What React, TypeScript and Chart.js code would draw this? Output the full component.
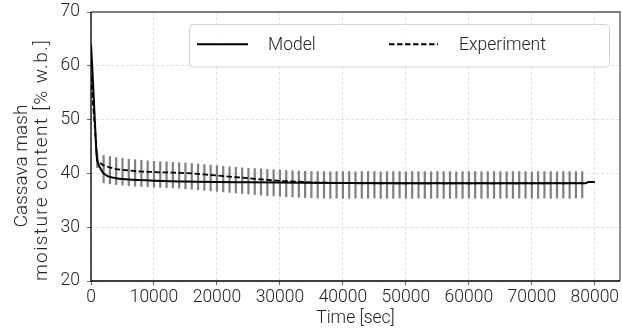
import React, { useEffect, useRef } from "react";
import { Chart, registerables } from "chart.js";

Chart.register(...registerables);

const FONT = "Roboto, 'DejaVu Sans', sans-serif";
const FONT_WEIGHT = "300";
const TEXT_COLOR = "#222";

// Tick values
const xTicks = [0, 10000, 20000, 30000, 40000, 50000, 60000, 70000, 80000];
const yTicks = [20, 30, 40, 50, 60, 70];

// Model curve
const modelTimes = [0, 250, 500, 750, 900, 1100, 1500, 2000, 2500, 3000, 4000, 5000, 6000, 8000, 10000, 12500, 15000, 20000, 25000, 30000, 40000, 50000, 60000, 70000, 78500, 79000, 80000];
const modelValues = [64, 58.5, 52.5, 46.5, 43.2, 42.0, 40.9, 40.0, 39.6, 39.35, 39.1, 38.95, 38.85, 38.75, 38.65, 38.55, 38.5, 38.4, 38.35, 38.3, 38.2, 38.15, 38.15, 38.15, 38.15, 38.4, 38.4];

// Experiment (mean curve) sampled every 1000 s
const expTimes = [
  0, 1000, 2000, 3000, 4000, 5000, 6000, 7000, 8000, 9000,
  10000, 11000, 12000, 13000, 14000, 15000, 16000, 17000, 18000, 19000,
  20000, 21000, 22000, 23000, 24000, 25000, 26000, 27000, 28000, 29000,
  30000, 31000, 32000, 33000, 34000, 35000, 36000, 37000, 38000, 39000,
  40000, 41000, 42000, 43000, 44000, 45000, 46000, 47000, 48000, 49000,
  50000, 51000, 52000, 53000, 54000, 55000, 56000, 57000, 58000, 59000,
  60000, 61000, 62000, 63000, 64000, 65000, 66000, 67000, 68000, 69000,
  70000, 71000, 72000, 73000, 74000, 75000, 76000, 77000, 78000,
];
const expValues = [
  58, 42.3, 41.5, 41.1, 40.8, 40.65, 40.55, 40.45, 40.35, 40.3,
  40.25, 40.2, 40.2, 40.15, 40.1, 40.05, 40.0, 39.9, 39.8, 39.7,
  39.6, 39.5, 39.4, 39.3, 39.2, 39.1, 39.0, 38.9, 38.8, 38.7,
  38.6, 38.55, 38.5, 38.45, 38.4, 38.35, 38.3, 38.3, 38.25, 38.25,
  38.2, 38.2, 38.2, 38.15, 38.2, 38.15, 38.15, 38.2, 38.15, 38.15,
  38.15, 38.2, 38.15, 38.15, 38.15, 38.2, 38.15, 38.15, 38.15, 38.2,
  38.15, 38.15, 38.2, 38.15, 38.15, 38.15, 38.2, 38.15, 38.15, 38.2,
  38.15, 38.2, 38.15, 38.2, 38.2, 38.15, 38.2, 38.2, 38.2,
];
// Error bar extents (upper / lower) at each experiment time
const barTop = [
  null, 43.7, 43.4, 43.2, 43.0, 42.85, 42.7, 42.6, 42.5, 42.4,
  42.3, 42.25, 42.2, 42.1, 42.05, 42.0, 41.9, 41.8, 41.7, 41.6,
  41.5, 41.4, 41.3, 41.2, 41.1, 41.0, 40.95, 40.9, 40.8, 40.75,
  40.7, 40.6, 40.55, 40.5, 40.45, 40.4, 40.4, 40.4, 40.35, 40.4,
  40.4, 40.4, 40.35, 40.4, 40.4, 40.4, 40.35, 40.4, 40.4, 40.4,
  40.35, 40.4, 40.4, 40.4, 40.35, 40.4, 40.4, 40.4, 40.35, 40.4,
  40.4, 40.4, 40.35, 40.4, 40.4, 40.4, 40.35, 40.4, 40.4, 40.4,
  40.35, 40.4, 40.4, 40.4, 40.35, 40.4, 40.4, 40.4, 40.4,
];
const barBottom = [
  null, 41.0, 38.2, 38.0, 37.85, 37.75, 37.65, 37.55, 37.5, 37.45,
  37.4, 37.35, 37.3, 37.25, 37.2, 37.1, 37.0, 36.9, 36.8, 36.7,
  36.6, 36.5, 36.4, 36.3, 36.2, 36.1, 36.0, 35.9, 35.8, 35.75,
  35.7, 35.6, 35.55, 35.5, 35.45, 35.4, 35.35, 35.35, 35.3, 35.35,
  35.3, 35.3, 35.35, 35.3, 35.3, 35.35, 35.3, 35.3, 35.3, 35.35,
  35.3, 35.3, 35.35, 35.3, 35.3, 35.35, 35.3, 35.3, 35.35, 35.3,
  35.35, 35.3, 35.3, 35.35, 35.3, 35.3, 35.35, 35.3, 35.35, 35.3,
  35.35, 35.3, 35.35, 35.3, 35.35, 35.35, 35.3, 35.35, 35.4,
];

const seriesLabels = ["Model", "Experiment"];
const xTitle = "Time [sec]";
const yTitleLines = ["Cassava mash", "moisture content [% w.b.]"];

const errorBarPlugin = {
  id: "errorBars",
  beforeDatasetsDraw(chart: any) {
    const { ctx, scales, chartArea } = chart;
    const xs = scales.x, ys = scales.y;
    ctx.save();
    ctx.beginPath();
    ctx.rect(chartArea.left, chartArea.top, chartArea.right - chartArea.left, chartArea.bottom - chartArea.top);
    ctx.clip();
    ctx.strokeStyle = "#808080";
    ctx.lineWidth = 2.2;
    for (let i = 0; i < expTimes.length; i++) {
      const t = barTop[i], b = barBottom[i];
      if (t == null || b == null) continue;
      const x = xs.getPixelForValue(expTimes[i]);
      ctx.beginPath();
      ctx.moveTo(x, ys.getPixelForValue(t));
      ctx.lineTo(x, ys.getPixelForValue(b));
      ctx.stroke();
    }
    ctx.restore();
  },
};

const framePlugin = {
  id: "frame",
  afterDatasetsDraw(chart: any) {
    const { ctx, chartArea: a } = chart;
    ctx.save();
    ctx.lineWidth = 1.3;
    ctx.strokeStyle = "#555";
    ctx.beginPath();
    ctx.moveTo(a.left, a.top);
    ctx.lineTo(a.right, a.top);
    ctx.lineTo(a.right, a.bottom);
    ctx.stroke();
    ctx.strokeStyle = "#000";
    ctx.beginPath();
    ctx.moveTo(a.left, a.top);
    ctx.lineTo(a.left, a.bottom);
    ctx.lineTo(a.right, a.bottom);
    ctx.stroke();
    ctx.restore();
  },
};

const legendPlugin = {
  id: "boxLegend",
  afterDraw(chart: any) {
    const { ctx, chartArea: a } = chart;
    const right = a.right - 11;
    const left = right - 420;
    const top = a.top + 12;
    const h = 42.5;
    const cy = top + h / 2 - 1;
    ctx.save();
    ctx.fillStyle = "rgba(255,255,255,0.85)";
    ctx.strokeStyle = "#d4d4d4";
    ctx.lineWidth = 1;
    ctx.beginPath();
    (ctx as any).roundRect(left + 0.5, top + 0.5, 420, h, 4);
    ctx.fill();
    ctx.stroke();

    ctx.strokeStyle = "#000";
    ctx.lineWidth = 2;
    ctx.beginPath();
    ctx.moveTo(left + 8, cy);
    ctx.lineTo(left + 59, cy);
    ctx.stroke();

    ctx.lineWidth = 1.8;
    ctx.setLineDash([5.5, 2.5]);
    ctx.beginPath();
    ctx.moveTo(left + 200, cy);
    ctx.lineTo(left + 249, cy);
    ctx.stroke();
    ctx.setLineDash([]);

    ctx.fillStyle = TEXT_COLOR;
    ctx.font = `${FONT_WEIGHT} 17.5px ${FONT}`;
    ctx.textAlign = "left";
    ctx.textBaseline = "middle";
    ctx.fillText(seriesLabels[0], left + 79, cy + 1);
    ctx.fillText(seriesLabels[1], left + 270, cy + 1);
    ctx.restore();
  },
};

const yTitlePlugin = {
  id: "yTitle",
  afterDraw(chart: any) {
    const { ctx } = chart;
    const draw = (text: string, x: number, y: number, spacing: number) => {
      ctx.save();
      ctx.fillStyle = TEXT_COLOR;
      ctx.font = `${FONT_WEIGHT} 19px ${FONT}`;
      (ctx as any).letterSpacing = `${spacing}px`;
      ctx.textAlign = "center";
      ctx.textBaseline = "middle";
      ctx.translate(x, y);
      ctx.rotate(-Math.PI / 2);
      ctx.fillText(text, 0, 0);
      ctx.restore();
    };
    draw(yTitleLines[0], 22, 166, 0);
    draw(yTitleLines[1], 42, 160, 1.4);
  },
};

export default function App() {
  const ref = useRef<HTMLCanvasElement>(null);
  useEffect(() => {
    document.body.style.margin = "0";
    const canvas = ref.current;
    if (!canvas) return;
    const tickFont = { family: FONT, size: 17.5, weight: FONT_WEIGHT };
    const gridCommon = {
      color: "#d9d9d9",
      lineWidth: 0.8,
      tickLength: 4,
      tickColor: "#666",
      tickWidth: 1,
    };
    const chart = new Chart(canvas, {
      type: "line",
      data: {
        datasets: [
          {
            label: seriesLabels[0],
            data: modelTimes.map((t, i) => ({ x: t, y: modelValues[i] })),
            borderColor: "#000",
            borderWidth: 2,
            pointRadius: 0,
            cubicInterpolationMode: "monotone",
            fill: false,
          },
          {
            label: seriesLabels[1],
            data: expTimes.map((t, i) => ({ x: t, y: expValues[i] })),
            borderColor: "#000",
            borderWidth: 1.8,
            borderDash: [5.5, 2.5],
            pointRadius: 0,
            fill: false,
          },
        ],
      },
      options: {
        responsive: false,
        animation: false,
        events: [],
        layout: { padding: { top: 12, right: 2, left: 0, bottom: 0 } },
        plugins: { legend: { display: false }, tooltip: { enabled: false } },
        scales: {
          x: {
            type: "linear",
            min: 0,
            max: 84000,
            afterBuildTicks: (s: any) => {
              s.ticks = xTicks.map((v) => ({ value: v }));
            },
            afterFit: (s: any) => {
              s.height = 55;
              s.paddingLeft = 0;
              s.paddingRight = 0;
            },
            ticks: {
              font: tickFont,
              color: TEXT_COLOR,
              padding: 2,
              maxRotation: 0,
              autoSkip: false,
              callback: (v: any) => String(v),
            },
            grid: gridCommon,
            border: { display: false, dash: [3, 2] },
            title: {
              display: true,
              text: xTitle,
              font: { family: FONT, size: 17.5, weight: FONT_WEIGHT },
              color: TEXT_COLOR,
              padding: { top: 0, bottom: 7 },
            },
          },
          y: {
            type: "linear",
            min: 20,
            max: 70,
            afterBuildTicks: (s: any) => {
              s.ticks = yTicks.map((v) => ({ value: v }));
            },
            afterFit: (s: any) => {
              s.width = 91;
              s.paddingTop = 0;
              s.paddingBottom = 0;
            },
            ticks: {
              font: tickFont,
              color: TEXT_COLOR,
              padding: 7,
              callback: (v: any) => String(v),
            },
            grid: gridCommon,
            border: { display: false, dash: [3, 2] },
          },
        },
      } as any,
      plugins: [errorBarPlugin, framePlugin, legendPlugin, yTitlePlugin],
    });
    return () => chart.destroy();
  }, []);
  return (
    <div style={{ width: 622, height: 336 }}>
      <canvas ref={ref} width={622} height={336} style={{ display: "block" }} />
    </div>
  );
}
